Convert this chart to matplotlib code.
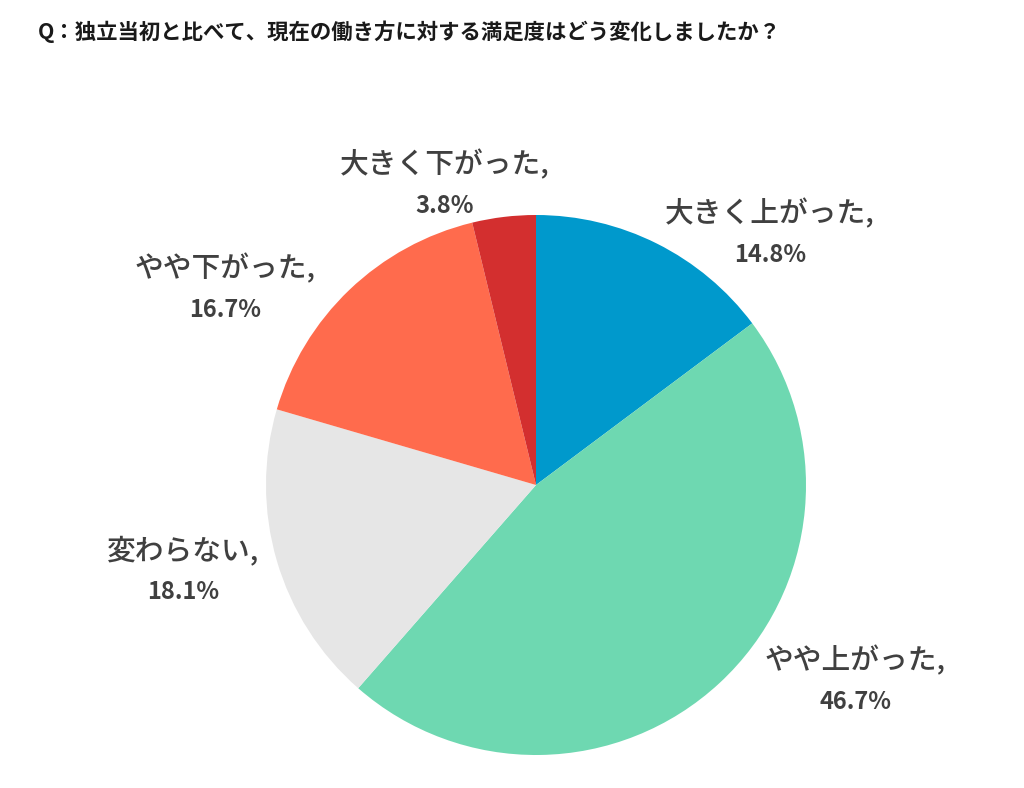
import matplotlib
matplotlib.use("Agg")
import matplotlib.pyplot as plt

plt.rcParams['font.family'] = ['Noto Sans CJK JP', 'DejaVu Sans']

title = "Q：独立当初と比べて、現在の働き方に対する満足度はどう変化しましたか？"
categories = ["大きく上がった", "やや上がった", "変わらない", "やや下がった", "大きく下がった"]
values = [14.8, 46.7, 18.1, 16.7, 3.8]
colors = ["#0099CC", "#6ED8B1", "#E6E6E6", "#FF6B4D", "#D32F2F"]

# label centre positions in pixels (layout only)
label_px = [(770, 234), (855, 681), (183, 571), (225, 289), (445, 185)]

W, H = 1024, 788
fig = plt.figure(figsize=(W / 100, H / 100), dpi=100)
cx, cy, r = 536, 485, 270
ax = fig.add_axes([(cx - r) / W, (H - cy - r) / H, 2 * r / W, 2 * r / H])
ax.pie(values, colors=colors, startangle=90, counterclock=False, radius=1,
       wedgeprops=dict(linewidth=0))
ax.set_xlim(-1, 1)
ax.set_ylim(-1, 1)
ax.set_aspect('equal')
ax.axis('off')

tc = "#404040"
for cat, v, (px, py) in zip(categories, values, label_px):
    fig.text(px / W, 1 - (py - 21) / H, cat + ",", ha='center', va='center',
             fontsize=20.7, color=tc, fontweight='medium')
    fig.text(px / W, 1 - (py + 21) / H, f"{v:.1f}%", ha='center', va='center',
             fontsize=17, color=tc, fontweight='bold')

fig.text(38 / W, 1 - 32 / H, title, ha='left', va='center', fontsize=15.4,
         fontweight='bold', color="#1a1a1a")

fig.savefig("out.png", dpi=100, facecolor='white')
